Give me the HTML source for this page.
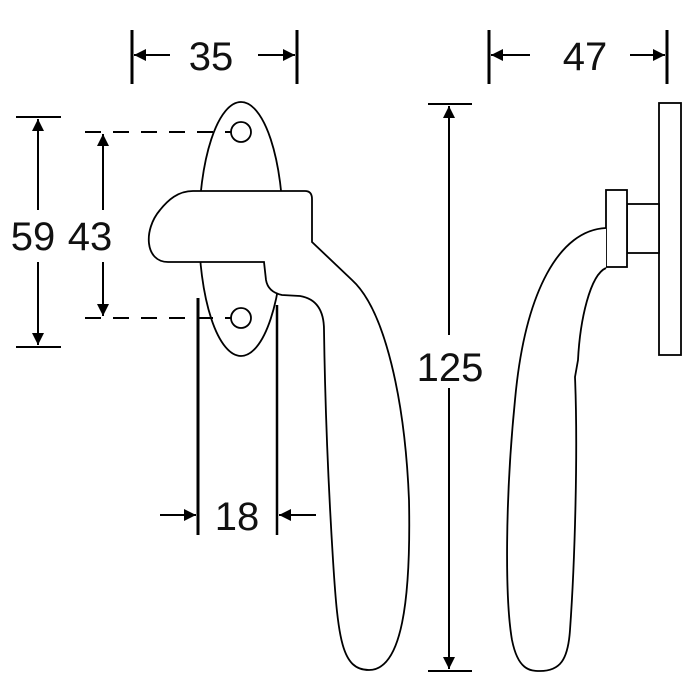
<!DOCTYPE html>
<html><head><style>html,body{margin:0;padding:0;background:#fff}svg{display:block}</style></head>
<body>
<svg width="700" height="700" viewBox="0 0 700 700" xmlns="http://www.w3.org/2000/svg">
<defs>
<marker id="a" viewBox="0 0 10 10" refX="10" refY="5" markerWidth="12" markerHeight="12" markerUnits="userSpaceOnUse" orient="auto-start-reverse"><path d="M0,0 L10,5 L0,10 z" fill="#000"/></marker>
</defs>
<g fill="none" stroke="#000" stroke-width="2">
<line x1="132" y1="30" x2="132" y2="84" stroke-width="3"/>
<line x1="297" y1="30" x2="297" y2="84" stroke-width="3"/>
<line x1="170" y1="55" x2="134" y2="55" marker-end="url(#a)"/>
<line x1="258" y1="55" x2="295" y2="55" marker-end="url(#a)"/>
<line x1="489" y1="30" x2="489" y2="84" stroke-width="3"/>
<line x1="667" y1="30" x2="667" y2="84" stroke-width="3"/>
<line x1="530" y1="55" x2="491" y2="55" marker-end="url(#a)"/>
<line x1="630" y1="55" x2="665" y2="55" marker-end="url(#a)"/>
<line x1="16" y1="117" x2="61" y2="117"/>
<line x1="16" y1="347" x2="61" y2="347"/>
<line x1="38" y1="210" x2="38" y2="119" marker-end="url(#a)"/>
<line x1="38" y1="262" x2="38" y2="345" marker-end="url(#a)"/>
<line x1="103" y1="210" x2="103" y2="134" marker-end="url(#a)"/>
<line x1="103" y1="262" x2="103" y2="316" marker-end="url(#a)"/>
<line x1="428" y1="104" x2="472" y2="104"/>
<line x1="428" y1="671" x2="472" y2="671"/>
<line x1="449" y1="335" x2="449" y2="106" marker-end="url(#a)"/>
<line x1="449" y1="388" x2="449" y2="669" marker-end="url(#a)"/>
<line x1="160" y1="515" x2="196" y2="515" marker-end="url(#a)"/>
<line x1="316" y1="515" x2="279" y2="515" marker-end="url(#a)"/>
</g>
<g fill="#fff" stroke="#000" stroke-width="1.8">
<ellipse cx="241" cy="229" rx="42" ry="127"/>
<circle cx="241" cy="132" r="10"/>
<circle cx="241" cy="318" r="10"/>
<path d="M193,191 L305,191 Q312,191 312,199 L312,242 L352,280 C385,310 405,400 409,500 C411,600 402,670 369,670 C342,670 338,640 333,560 C328,480 325,400 324,330 Q324,300 300,296 L282,295 Q268,292 266,280 L264,262 L168,262 C145,262 143,230 160,210 C168,200 178,191 193,191 Z"/>
<rect x="659" y="103" width="22" height="252"/>
<rect x="627" y="204" width="32" height="49"/>
<rect x="606" y="190" width="21" height="77"/>
<path d="M606,228 C560,230 525,290 515,400 C505,500 505,600 512,640 C518,670 530,671 540,671 C560,671 568,660 570,630 C575,560 578,450 575,377 L578,360 C580,320 590,275 606,268" />
</g>
<g fill="none" stroke="#000" stroke-width="2">
<line x1="85" y1="132" x2="231" y2="132" stroke-dasharray="16,12"/>
<line x1="85" y1="318" x2="231" y2="318" stroke-dasharray="16,12"/>
<line x1="198" y1="298" x2="198" y2="535" stroke-width="3"/>
<line x1="277" y1="305" x2="277" y2="535" stroke-width="2.5"/>
</g>
<g font-family="Liberation Sans, sans-serif" font-size="40" fill="#111" text-anchor="middle">
<text x="211" y="70">35</text>
<text x="585" y="70">47</text>
<text x="33" y="250">59</text>
<text x="90" y="250">43</text>
<rect x="415" y="340" width="70" height="44" fill="#fff"/>
<text x="450" y="381">125</text>
<text x="237" y="530">18</text>
</g>
</svg>
</body></html>
